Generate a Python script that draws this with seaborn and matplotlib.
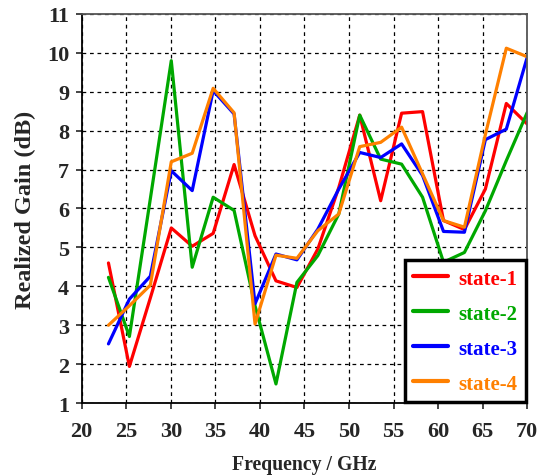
import numpy as np
import pandas as pd
import seaborn as sns
import matplotlib.pyplot as plt

freq = [23.0, 25.35, 27.7, 30.05, 32.4, 34.75, 37.1, 39.45, 41.8, 44.15, 46.5,
        48.85, 51.2, 53.55, 55.9, 58.25, 60.6, 62.95, 65.3, 67.65, 70.0]

state1 = [4.6, 1.94, 3.7, 5.5, 5.03, 5.36, 7.13, 5.3, 4.14, 3.97, 4.96,
          6.54, 8.4, 6.2, 8.45, 8.49, 5.69, 5.46, 6.5, 8.7, 8.17]
state2 = [4.23, 2.71, 6.25, 9.8, 4.49, 6.29, 5.95, 3.5, 1.49, 4.1, 4.79,
          5.86, 8.4, 7.27, 7.14, 6.29, 4.62, 4.87, 5.94, 7.23, 8.47]
state3 = [2.52, 3.67, 4.26, 6.97, 6.46, 9.03, 8.43, 3.55, 4.83, 4.68, 5.47,
          6.5, 7.44, 7.31, 7.66, 6.85, 5.41, 5.39, 7.77, 8.04, 9.89]
state4 = [3.0, 3.5, 4.03, 7.2, 7.42, 9.09, 8.46, 3.03, 4.8, 4.72, 5.43,
          5.86, 7.59, 7.7, 8.09, 6.89, 5.69, 5.52, 7.9, 10.12, 9.9]

labels = ['state-1', 'state-2', 'state-3', 'state-4']
colors = ['#ff0000', '#00a800', '#0000ff', '#ff8000']

df = pd.DataFrame({
    'Frequency': freq * 4,
    'Gain': state1 + state2 + state3 + state4,
    'State': np.repeat(labels, len(freq)),
})

sns.set_style('ticks')
plt.rcParams['font.family'] = ['Liberation Serif', 'DejaVu Serif']
plt.rcParams['font.weight'] = 'bold'

fig = plt.figure(figsize=(5.43, 4.77), dpi=100)
ax = fig.add_axes([0.1505, 0.153, 0.8205, 0.8156])

sns.lineplot(data=df, x='Frequency', y='Gain', hue='State', palette=colors,
             linewidth=2.3, ax=ax, legend=True)

ax.set_xlim(20, 70)
ax.set_ylim(1, 11)
ax.set_xticks(range(20, 71, 5))
ax.set_yticks(range(1, 12))
ax.grid(True, color='black', linestyle=(0, (3, 3)), linewidth=0.9)
ax.tick_params(labelsize=16, width=1.2, length=4, direction='out')
ax.tick_params(axis='x', pad=9)
ax.tick_params(axis='y', pad=5)
for lab in ax.get_xticklabels() + ax.get_yticklabels():
    lab.set_fontweight('bold')

ax.spines['left'].set_color('black')
ax.spines['bottom'].set_color('black')
ax.spines['top'].set_color('#555555')
ax.spines['right'].set_color('#555555')
for s in ax.spines.values():
    s.set_linewidth(1.3)

ax.set_xlabel('Frequency / GHz', fontsize=14.2, fontweight='bold', labelpad=9)
ax.set_ylabel('Realized Gain (dB)', fontsize=17.5, fontweight='bold', labelpad=8)

leg = ax.legend(loc='lower right', fontsize=15, frameon=True, fancybox=False,
                borderaxespad=0.05, handlelength=1.7, handletextpad=0.5,
                labelspacing=0.72, borderpad=0.4)
leg.get_frame().set_edgecolor('black')
leg.get_frame().set_linewidth(2.5)
leg.get_frame().set_alpha(1)
for txt, c in zip(leg.get_texts(), colors):
    txt.set_color(c)
    txt.set_fontweight('bold')
for ln in leg.get_lines():
    ln.set_linewidth(3)

fig.savefig('out.png', dpi=100)
